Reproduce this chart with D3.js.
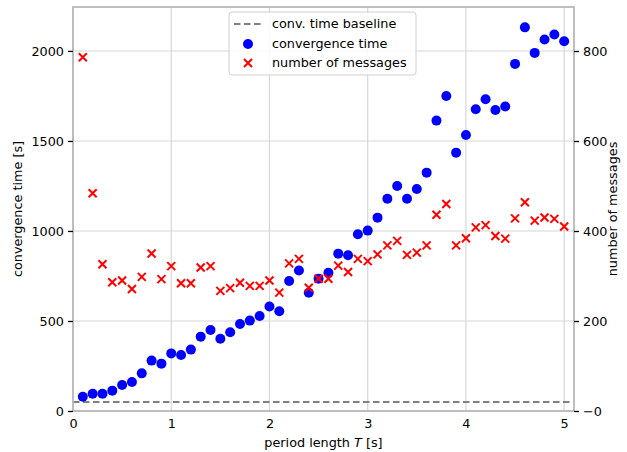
<!DOCTYPE html>
<html><head><meta charset="utf-8">
<script src="https://cdn.jsdelivr.net/npm/d3@7"></script>
<style>body{margin:0;background:#fff}svg{display:block}text{font-family:"DejaVu Sans",sans-serif;}</style>
</head><body><svg id="c" width="627" height="452"></svg>
<script>
const periods = [0.1,0.2,0.3,0.4,0.5,0.6,0.7,0.8,0.9,1.0,1.1,1.2,1.3,1.4,1.5,1.6,1.7,1.8,1.9,2.0,2.1,2.2,2.3,2.4,2.5,2.6,2.7,2.8,2.9,3.0,3.1,3.2,3.3,3.4,3.5,3.6,3.7,3.8,3.9,4.0,4.1,4.2,4.3,4.4,4.5,4.6,4.7,4.8,4.9,5.0];
const convTime = [79,96,96,113,144,161,209,280,263,320,311,341,413,450,401,437,483,502,528,580,554,722,780,657,735,768,874,865,982,1002,1074,1179,1250,1179,1233,1324,1613,1750,1435,1533,1676,1732,1672,1691,1928,2131,1989,2063,2091,2054];
const messages = [786,484,326,286,290,271,298,350,293,322,284,284,319,322,267,273,285,278,278,290,263,328,338,274,294,294,323,309,338,333,348,368,378,347,352,368,436,460,368,384,408,413,389,383,428,464,423,430,427,410];
const baseline = 50;
const xTicks = [0,1,2,3,4,5];
const yLeftTicks = [0,500,1000,1500,2000];
const yRightTicks = [0,200,400,600,800];
const rightTickLabels = ["\u22120","200","400","600","800"];

const svg = d3.select("#c");
const L=73, R=574, T=7, B=411;
const x = d3.scaleLinear().domain([0,5.1]).range([L,R]);
const yL = d3.scaleLinear().domain([0,2244]).range([B,T]);
const yR = d3.scaleLinear().domain([0,897.8]).range([B,T]);

const grid = svg.append("g").attr("stroke","#d6d6d6").attr("stroke-width",1.2);
xTicks.forEach(t=>grid.append("line").attr("x1",x(t)).attr("x2",x(t)).attr("y1",T).attr("y2",B));
yRightTicks.forEach(t=>grid.append("line").attr("x1",L).attr("x2",R).attr("y1",yR(t)).attr("y2",yR(t)));

// baseline
svg.append("line").attr("x1",L).attr("x2",R).attr("y1",yL(baseline)).attr("y2",yL(baseline))
  .attr("stroke","#808080").attr("stroke-width",1.8).attr("stroke-dasharray","6.5,3.5");

// convergence points
svg.append("g").selectAll("circle").data(periods).join("circle")
  .attr("cx",(d)=>x(d)).attr("cy",(d,i)=>yL(convTime[i])).attr("r",5).attr("fill","#0000ff");

// message crosses
const cr=4;
svg.append("g").attr("stroke","#ff0000").attr("stroke-width",2).selectAll("path").data(periods).join("path")
  .attr("d",(d,i)=>{const cx=x(d), cy=yR(messages[i]); return `M${cx-cr},${cy-cr}L${cx+cr},${cy+cr}M${cx-cr},${cy+cr}L${cx+cr},${cy-cr}`;});

// spines
svg.append("rect").attr("x",L).attr("y",T).attr("width",R-L).attr("height",B-T)
  .attr("fill","none").attr("stroke","#b8b8b8").attr("stroke-width",1.8);

// axes
const fs=12.8;
const xa = svg.append("g").attr("transform",`translate(0,${B})`)
  .call(d3.axisBottom(x).tickValues(xTicks).tickSize(0).tickPadding(8).tickFormat(d3.format("d")));
xa.select(".domain").remove();
const ya = svg.append("g").attr("transform",`translate(${L},0)`)
  .call(d3.axisLeft(yL).tickValues(yLeftTicks).tickSize(5).tickPadding(4).tickFormat(d3.format("d")));
ya.select(".domain").remove();
const yb = svg.append("g").attr("transform",`translate(${R},0)`)
  .call(d3.axisRight(yR).tickValues(yRightTicks).tickSize(5).tickPadding(4).tickFormat((d,i)=>rightTickLabels[i]));
yb.select(".domain").remove();
[xa,ya,yb].forEach(a=>{a.selectAll("text").attr("font-size",fs).attr("fill","#000").attr("font-family","DejaVu Sans");
  a.selectAll("line").attr("stroke","#000").attr("stroke-width",1.3);});

// axis labels
svg.append("text").attr("x",x(2.55)).attr("y",447).attr("text-anchor","middle").attr("font-size",fs)
  .html('period length <tspan font-style="italic">T</tspan> [s]');
svg.append("text").attr("transform",`translate(22,${(T+B)/2}) rotate(-90)`).attr("text-anchor","middle").attr("font-size",fs).text("convergence time [s]");
svg.append("text").attr("transform",`translate(617,${(T+B)/2}) rotate(-90)`).attr("text-anchor","middle").attr("font-size",fs).text("number of messages");

// legend
const lg = svg.append("g");
lg.append("rect").attr("x",229).attr("y",12).attr("width",187).attr("height",63).attr("rx",3)
  .attr("fill","#fff").attr("fill-opacity",0.85).attr("stroke","#d0d0d0");
lg.append("line").attr("x1",234).attr("x2",261).attr("y1",24).attr("y2",24).attr("stroke","#808080").attr("stroke-width",1.8).attr("stroke-dasharray","6.5,3.5");
lg.append("circle").attr("cx",248).attr("cy",44).attr("r",5).attr("fill","#0000ff");
lg.append("path").attr("d",`M${248-cr},${63-cr}L${248+cr},${63+cr}M${248-cr},${63+cr}L${248+cr},${63-cr}`).attr("stroke","#ff0000").attr("stroke-width",2);
const items=["conv. time baseline","convergence time","number of messages"];
items.forEach((t,i)=>lg.append("text").attr("x",272).attr("y",28+i*19.5).attr("font-size",fs).text(t));
</script></body></html>
